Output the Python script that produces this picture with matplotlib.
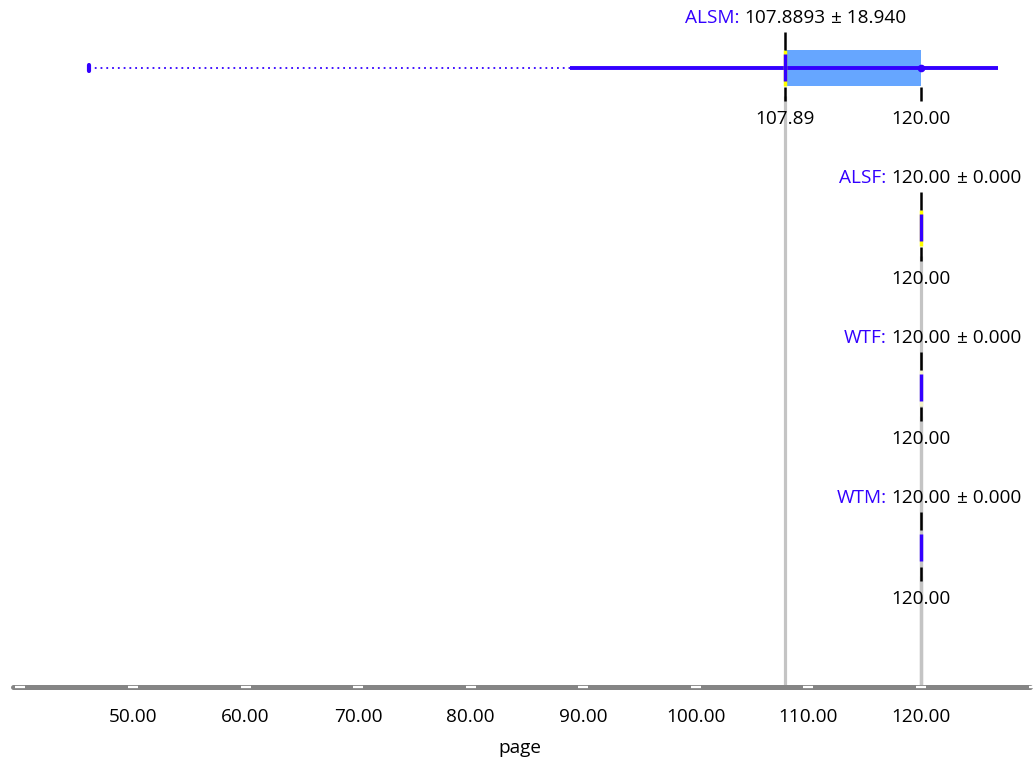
import matplotlib
matplotlib.use("Agg")
import matplotlib.pyplot as plt

plt.rcParams['font.family'] = ['Open Sans', 'DejaVu Sans']

# data
names = ["ALSM", "ALSF", "WTF", "WTM"]
means = [107.8893, 120.00, 120.00, 120.00]
stds = [18.940, 0.000, 0.000, 0.000]
box_lo = [107.89, 120.00, 120.00, 120.00]
box_hi = [120.00, 120.00, 120.00, 120.00]
medians = [120.00, None, None, None]
whisk_lo = [88.8, None, None, None]
whisk_hi = [126.8, None, None, None]
mins = [46.1, None, None, None]
tick_vals = [40, 50, 60, 70, 80, 90, 100, 110, 120, 130]
tick_labels = ["50.00", "60.00", "70.00", "80.00", "90.00", "100.00", "110.00", "120.00"]
xlabel = "page"

BLUE = "#3300ff"
BOX = "#66a6ff"
GRAY = "#c4c4c4"
AXIS = "#858585"
FS = 13.7

fig = plt.figure(figsize=(10.36, 7.65), dpi=100)
ax = fig.add_axes([0, 0, 1, 1])
ax.set_xlim(38.185, 130.216)
ax.set_ylim(765, 0)
ax.axis("off")
fig.canvas.draw()
renderer = fig.canvas.get_renderer()

axis_y = 687
row_y = [68, 228, 388, 548]
yellow = ["#ffff00", "#ffff00", "#f3f3c8", None]

for i, name in enumerate(names):
    y = row_y[i]
    m = means[i]
    # gray reference line down to axis
    ax.plot([m, m], [y + 28, axis_y], color=GRAY, lw=2.3, zorder=1, solid_capstyle="butt")

    # whiskers
    if mins[i] is not None:
        ax.plot([mins[i], whisk_lo[i]], [y, y], color=BLUE, lw=1.3, ls=(0, (1, 2.2)), zorder=3)
        ax.plot([mins[i], mins[i]], [y - 3, y + 3], color=BLUE, lw=3, solid_capstyle="round", zorder=4)
        ax.plot([whisk_lo[i], whisk_hi[i]], [y, y], color=BLUE, lw=2.8, zorder=4, solid_capstyle="butt")
    # box
    if box_hi[i] > box_lo[i]:
        ax.fill_between([box_lo[i], box_hi[i]], y - 18, y + 18, color=BOX, lw=0, zorder=2)
    if medians[i] is not None:
        ax.plot([medians[i]], [y], "o", color=BLUE, ms=4.5, zorder=5)

    # mean marker
    if yellow[i] is not None:
        ax.plot([m, m], [y - 18, y + 18], color=yellow[i], lw=2.5, zorder=5, solid_capstyle="butt")
    ax.plot([m, m], [y - 14, y + 13], color=BLUE, lw=2.5, zorder=6, solid_capstyle="butt")

    # upper tick and title text
    ax.plot([m, m], [y - 36, y - 18], color="black", lw=1.8, zorder=6, solid_capstyle="butt")
    ms_txt = "%.4f" % m if stds[i] > 0 else "%.2f" % m
    t = ax.text(m, y - 50, ms_txt, ha="center", va="center", fontsize=FS, zorder=7)
    w = t.get_window_extent(renderer).width
    ax.annotate(name + ":", xy=(m, y - 50), xytext=(-w / 2 - 5, 0), textcoords="offset pixels",
                ha="right", va="center", fontsize=FS, color=BLUE, zorder=7)
    ax.annotate("± %.3f" % stds[i], xy=(m, y - 50), xytext=(w / 2 + 6, 0), textcoords="offset pixels",
                ha="left", va="center", fontsize=FS, zorder=7)

    # lower ticks and labels
    lows = sorted(set([box_lo[i], box_hi[i]]))
    for v in lows:
        ax.plot([v, v], [y + 19, y + 33], color="black", lw=1.8, zorder=6, solid_capstyle="butt")
        ax.text(v, y + 51, "%.2f" % v, ha="center", va="center", fontsize=FS, zorder=7)

# x axis
ax.plot([39.3, 129.7], [axis_y, axis_y], color=AXIS, lw=3.6, solid_capstyle="round", zorder=3)
ax.plot(tick_vals, [axis_y] * len(tick_vals), "_", color="white", ms=6.5, mew=1.6, zorder=4)
for v, lab in zip(tick_vals[1:-1], tick_labels):
    ax.text(v, 717, lab, ha="center", va="center", fontsize=FS)
ax.text(84.4, 748, xlabel, ha="center", va="center", fontsize=FS)

fig.savefig("out.png", dpi=100)
